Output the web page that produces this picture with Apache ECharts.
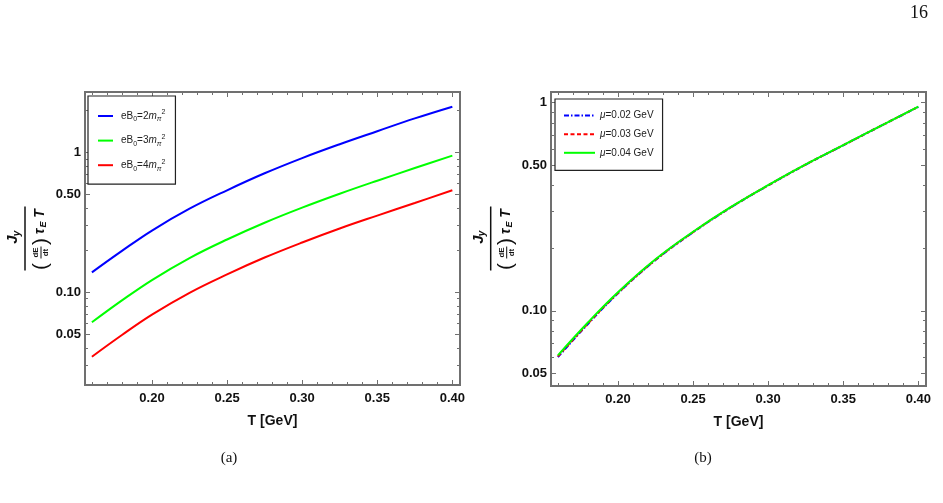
<!DOCTYPE html>
<html>
<head>
<meta charset="utf-8">
<script src="https://cdn.jsdelivr.net/npm/echarts@6/dist/echarts.min.js"></script>
<style>
  html, body { margin: 0; padding: 0; background: #fff; }
  #main { width: 943px; height: 503px; }
</style>
</head>
<body>
<div id="main"></div>
<script>
// temperature samples (GeV)
const T_VALS = [0.16, 0.18, 0.20, 0.225, 0.25, 0.275, 0.30, 0.325, 0.35, 0.375, 0.40];

// panel (a): different magnetic field strengths
const eB2 = [0.139, 0.198, 0.277, 0.397, 0.538, 0.712, 0.915, 1.150, 1.425, 1.76, 2.135];
const eB3 = [0.061, 0.0875, 0.1225, 0.176, 0.239, 0.315, 0.404, 0.508, 0.630, 0.776, 0.952];
const eB4 = [0.0346, 0.0495, 0.0693, 0.0993, 0.1345, 0.1775, 0.2275, 0.2865, 0.3545, 0.4365, 0.538];

// panel (b): different chemical potentials
const mu02 = [0.0600, 0.0865, 0.1215, 0.1755, 0.2385, 0.3135, 0.4005, 0.5045, 0.6245, 0.7735, 0.9555];
const mu03 = [0.0605, 0.0870, 0.1220, 0.1760, 0.2390, 0.3140, 0.4010, 0.5050, 0.6250, 0.7740, 0.9560];
const mu04 = [0.0612, 0.0880, 0.1230, 0.1770, 0.2400, 0.3150, 0.4020, 0.5060, 0.6260, 0.7750, 0.9570];

// ticks / labels
const xLabels = [0.20, 0.25, 0.30, 0.35, 0.40];
const xMinor = [0.16, 0.17, 0.18, 0.19, 0.21, 0.22, 0.23, 0.24, 0.26, 0.27, 0.28, 0.29,
                0.31, 0.32, 0.33, 0.34, 0.36, 0.37, 0.38, 0.39];
const yLabels = [0.05, 0.10, 0.50, 1];
const yMinor = [0.02, 0.03, 0.04, 0.06, 0.07, 0.08, 0.09, 0.2, 0.3, 0.4, 0.6, 0.7, 0.8, 0.9, 2];

const X_MIN = 0.1554, X_MAX = 0.4051;
const Y_RANGE_A = [0.0217, 2.72];
const Y_RANGE_B = [0.04358, 1.126];

const FRAME = '#707070';
const LABEL_FONT = { fontFamily: 'Liberation Sans', fontWeight: 'bold', fontSize: 13, color: '#111' };

function xAxes(g) {
  const base = { type: 'value', gridIndex: g, min: X_MIN, max: X_MAX,
    axisLine: { show: false }, splitLine: { show: false } };
  const tick = (vals, len) => ({ show: true, inside: true, length: len, customValues: vals,
    lineStyle: { color: FRAME, width: 1 } });
  return [
    Object.assign({}, base, {
      position: 'bottom',
      name: 'T [GeV]', nameLocation: 'middle', nameGap: 29,
      nameTextStyle: { fontFamily: 'Liberation Sans', fontWeight: 'bold', fontSize: 14, color: '#111' },
      axisTick: tick(xLabels, 5),
      axisLabel: Object.assign({ customValues: xLabels, margin: 7,
        formatter: v => v.toFixed(2) }, LABEL_FONT)
    }),
    Object.assign({}, base, { position: 'bottom', axisTick: tick(xMinor, 3), axisLabel: { show: false } }),
    Object.assign({}, base, { position: 'top', axisTick: tick(xLabels, 5), axisLabel: { show: false } }),
    Object.assign({}, base, { position: 'top', axisTick: tick(xMinor, 3), axisLabel: { show: false } })
  ];
}

function yAxes(g, range) {
  const base = { type: 'log', logBase: 10, gridIndex: g, min: range[0], max: range[1],
    axisLine: { show: false }, splitLine: { show: false }, minorTick: { show: false } };
  const tick = (vals, len) => ({ show: true, inside: true, length: len, customValues: vals,
    lineStyle: { color: FRAME, width: 1 } });
  return [
    Object.assign({}, base, {
      position: 'left',
      axisTick: tick(yLabels, 5),
      axisLabel: Object.assign({ customValues: yLabels, margin: 4,
        formatter: v => (v >= 1 ? '1' : v.toFixed(2)) }, LABEL_FONT)
    }),
    Object.assign({}, base, { position: 'left', axisTick: tick(yMinor, 3), axisLabel: { show: false } }),
    Object.assign({}, base, { position: 'right', axisTick: tick(yLabels, 5), axisLabel: { show: false } }),
    Object.assign({}, base, { position: 'right', axisTick: tick(yMinor, 3), axisLabel: { show: false } })
  ];
}

function pairs(vals) {
  return T_VALS.map((t, i) => [t, vals[i]]);
}

function line(name, vals, color, type, xi, yi) {
  return {
    name: name, type: 'line', data: pairs(vals),
    xAxisIndex: xi, yAxisIndex: yi,
    smooth: 0.4, showSymbol: false, symbol: 'none',
    lineStyle: { color: color, width: 2, type: type },
    itemStyle: { color: color }
  };
}

const legendRich = {
  t: { fontFamily: 'Liberation Sans', fontSize: 10, color: '#222', lineHeight: 14 },
  i: { fontFamily: 'Liberation Sans', fontSize: 10, fontStyle: 'italic', color: '#222', lineHeight: 14 },
  s: { fontFamily: 'Liberation Sans', fontSize: 7, color: '#222', verticalAlign: 'bottom', lineHeight: 14 },
  si: { fontFamily: 'Liberation Sans', fontSize: 7, fontStyle: 'italic', color: '#222', verticalAlign: 'bottom', lineHeight: 14 },
  p: { fontFamily: 'Liberation Sans', fontSize: 7, color: '#222', verticalAlign: 'top', lineHeight: 14 }
};

const legendTextA = {
  'eB0=2': '{t|eB}{s|0}{t|=2}{i|m}{si|π}{p|2}',
  'eB0=3': '{t|eB}{s|0}{t|=3}{i|m}{si|π}{p|2}',
  'eB0=4': '{t|eB}{s|0}{t|=4}{i|m}{si|π}{p|2}'
};
const legendTextB = {
  'mu=0.02': '{i|μ}{t|=0.02 GeV}',
  'mu=0.03': '{i|μ}{t|=0.03 GeV}',
  'mu=0.04': '{i|μ}{t|=0.04 GeV}'
};

// y-axis fraction title, drawn as a rotated group
function yTitle(cx, cy) {
  const bi = { fontFamily: 'Liberation Sans', fontWeight: 'bold', fontStyle: 'italic', fill: '#111' };
  const b = { fontFamily: 'Liberation Sans', fontWeight: 'bold', fill: '#111' };
  const txt = (x, y, s, style, size) => ({
    type: 'text', x: x, y: y,
    style: Object.assign({ text: s, fontSize: size, align: 'center', verticalAlign: 'middle' }, style)
  });
  return {
    type: 'group', x: cx, y: cy, rotation: Math.PI / 2,
    children: [
      txt(-1, -12, 'J', bi, 15),
      txt(5, -8, 'y', bi, 10),
      { type: 'line', shape: { x1: -32, y1: 0, x2: 32, y2: 0 }, style: { stroke: '#111', lineWidth: 1.5 } },
      txt(-28, 16, '(', { fontFamily: 'Liberation Sans', fill: '#111' }, 21),
      txt(-14, 11, 'dE', b, 8),
      { type: 'line', shape: { x1: -20, y1: 16, x2: -8, y2: 16 }, style: { stroke: '#111', lineWidth: 1 } },
      txt(-14, 21, 'dt', b, 8),
      txt(-3, 16, ')', { fontFamily: 'Liberation Sans', fill: '#111' }, 21),
      txt(7, 15, 'τ', bi, 14),
      txt(14, 19, 'E', bi, 9),
      txt(25, 15, 'T', bi, 14)
    ]
  };
}

const legendBase = {
  orient: 'vertical',
  itemHeight: 14,
  borderColor: '#222', borderWidth: 1.2, backgroundColor: '#fff',
  itemStyle: { opacity: 0, borderWidth: 0 }
};

const option = {
  animation: false,
  backgroundColor: '#fff',
  grid: [
    { left: 85, top: 92, width: 375, height: 293, show: true, borderColor: FRAME, borderWidth: 2 },
    { left: 551, top: 92, width: 375, height: 294, show: true, borderColor: FRAME, borderWidth: 2 }
  ],
  xAxis: xAxes(0).concat(xAxes(1)),
  yAxis: yAxes(0, Y_RANGE_A).concat(yAxes(1, Y_RANGE_B)),
  legend: [
    Object.assign({}, legendBase, {
      data: ['eB0=2', 'eB0=3', 'eB0=4'],
      left: 88, top: 96,
      itemWidth: 15, itemGap: 10.6,
      padding: [13, 10, 12, 9],
      formatter: n => legendTextA[n],
      textStyle: { rich: legendRich, padding: [0, 0, 0, 3] }
    }),
    Object.assign({}, legendBase, {
      data: ['mu=0.02', 'mu=0.03', 'mu=0.04'],
      left: 555, top: 99,
      itemWidth: 31, itemGap: 7.4,
      padding: [11, 9, 12, 8],
      formatter: n => legendTextB[n],
      textStyle: { rich: legendRich }
    })
  ],
  series: [
    line('eB0=2', eB2, '#0000ff', 'solid', 0, 0),
    line('eB0=3', eB3, '#00ff00', 'solid', 0, 0),
    line('eB0=4', eB4, '#ff0000', 'solid', 0, 0),
    line('mu=0.02', mu02, '#0000ff', [5, 2, 1.5, 2], 4, 4),
    line('mu=0.03', mu03, '#ff0000', [4, 2.5], 4, 4),
    line('mu=0.04', mu04, '#00ff00', 'solid', 4, 4)
  ],
  graphic: [
    { type: 'text', x: 928, y: 4, style: { text: '16', fontFamily: 'Liberation Serif', fontSize: 18, fill: '#111', align: 'right' } },
    { type: 'text', x: 229, y: 458, style: { text: '(a)', fontFamily: 'Liberation Serif', fontSize: 15, fill: '#111', align: 'center', verticalAlign: 'middle' } },
    { type: 'text', x: 703, y: 458, style: { text: '(b)', fontFamily: 'Liberation Serif', fontSize: 15, fill: '#111', align: 'center', verticalAlign: 'middle' } },
    yTitle(25, 238.5),
    yTitle(490.7, 238.5)
  ]
};

const chart = echarts.init(document.getElementById('main'));
chart.setOption(option);
</script>
</body>
</html>
